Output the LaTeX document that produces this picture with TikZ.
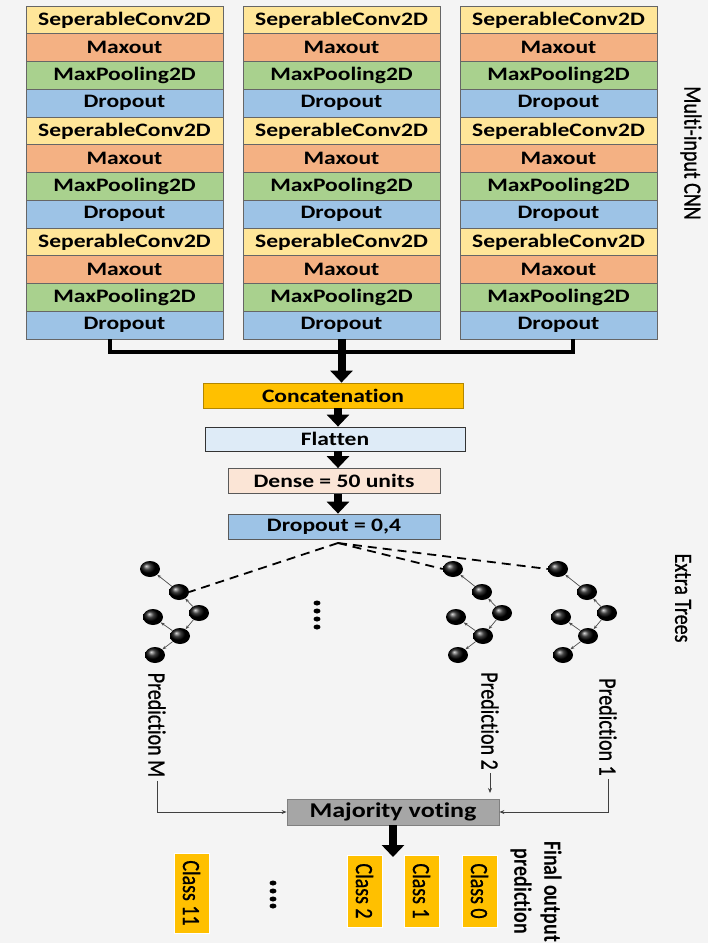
\documentclass[tikz,border=0pt]{standalone}
\usepackage{fontspec}
\usepackage{graphicx}
\setmainfont[Ligatures=NoCommon]{Carlito}
\newfontfamily\boxfont[FakeStretch=1.24, Ligatures=NoCommon]{Carlito}
\newfontfamily\sidefont[FakeBold=0.9, Ligatures=NoCommon]{Carlito}
\usetikzlibrary{arrows.meta,shapes.geometric}

\definecolor{BgGray}{RGB}{244,244,244}
\definecolor{ConvYellow}{RGB}{255,230,153}
\definecolor{MaxoutOrange}{RGB}{244,177,131}
\definecolor{PoolGreen}{RGB}{169,209,142}
\definecolor{DropBlue}{RGB}{157,195,230}
\definecolor{ConcatGold}{RGB}{255,192,0}
\definecolor{FlatBlue}{RGB}{222,235,247}
\definecolor{DensePeach}{RGB}{251,229,214}
\definecolor{VoteGray}{RGB}{166,166,166}

% glyphs a bit taller, for the turned labels
\newcommand{\tall}[1]{\scalebox{1}[1.24]{#1}}

\tikzstyle{layer} = [rectangle, minimum width=197pt, minimum height=27.75pt, inner sep=0pt, draw=black!60, line width=0.8pt, font=\boxfont\bfseries\fontsize{19}{22}\selectfont]
\tikzstyle{block} = [rectangle, minimum height=25pt, inner sep=0pt, draw=black!65, line width=0.8pt, font=\boxfont\bfseries\fontsize{19}{22}\selectfont]
\tikzstyle{ball} = [ellipse, minimum width=20pt, minimum height=16pt, inner sep=0pt, shading=ball, ball color=black]
\tikzstyle{side} = [rotate=-90, font=\sidefont\fontsize{20}{24}\selectfont]
\tikzstyle{classbox} = [rectangle, rotate=-90, minimum width=72pt, minimum height=35pt, inner sep=0pt, fill=ConcatGold, draw=white, font=\sidefont\fontsize{20}{24}\selectfont]
\tikzstyle{fatarrow} = [line width=8pt, -{Triangle[width=22pt,length=12pt]}]
\tikzstyle{bus} = [line width=4pt]
\tikzstyle{treearrow} = [line width=0.7pt, black!70, -{Stealth[length=4pt,width=3pt]}]
\tikzstyle{vote} = [line width=1pt, black!75, -{Stealth[length=5pt,width=4pt]}]

\begin{document}
\begin{tikzpicture}[x=1pt, y=-1pt]

\fill[BgGray] (0,0) rectangle (708,943);
\useasboundingbox (0,0) rectangle (708,943);

% Multi-input CNN
\foreach \c/\x in {1/124.5, 2/341.5, 3/558.5}
  \foreach \b in {0,1,2}
    \foreach \k/\fillc/\txt in {1/ConvYellow/SeperableConv2D, 2/MaxoutOrange/Maxout, 3/PoolGreen/MaxPooling2D, 4/DropBlue/Dropout} {
      \pgfmathsetmacro{\y}{6+27.75*(4*\b+\k-0.5)}
      \node (c\c-\b-\k) [layer, fill=\fillc] at (\x,\y) {\txt};
    }

\node (cnnlabel) [side] at (691,153) {\tall{Multi-input CNN}};

% Dense head
\node (concat) [block, fill=ConcatGold, draw=ConcatGold!70!black, minimum width=260pt] at (333,395.5) {Concatenation};
\node (flatten) [block, fill=FlatBlue, draw=black!80, minimum width=260pt, minimum height=24pt] at (335,439) {Flatten};
\node (dense) [block, fill=DensePeach, minimum width=212pt] at (334,481) {Dense = 50 units};
\node (drop) [block, fill=DropBlue, minimum width=212pt] at (334,526.5) {Dropout = 0,4};

\coordinate (busL) at (110,352);
\coordinate (busR) at (573,352);
\draw[bus] (busL |- c1-2-4.south) -- (busL) -- (busR) -- (busR |- c3-2-4.south);
\draw[fatarrow] (c2-2-4.south) -- (c2-2-4.south |- concat.north);
\draw[fatarrow] (concat.south -| 338,0) -- (flatten.north -| 338,0);
\draw[fatarrow] (flatten.south -| 338,0) -- (dense.north -| 338,0);
\draw[fatarrow] (dense.south -| 338,0) -- (drop.north -| 338,0);

% Extra Trees
\foreach \t/\x in {M/150, 2/453, 1/558} {
  \node (\t-1) [ball] at (\x,569) {};
  \node (\t-2) [ball] at (\x+29,592) {};
  \node (\t-3) [ball] at (\x+49,613) {};
  \node (\t-4) [ball] at (\x+3,617) {};
  \node (\t-5) [ball] at (\x+30,636) {};
  \node (\t-6) [ball] at (\x+5,655) {};
  \draw[treearrow] (\t-2) -- (\t-1);
  \draw[treearrow] (\t-3) -- (\t-2);
  \draw[treearrow] (\t-3) -- (\t-5);
  \draw[treearrow] (\t-5) -- (\t-4);
  \draw[treearrow] (\t-5) -- (\t-6);
}

\coordinate (fork) at (338,543);
\draw[line width=1.8pt, dash pattern=on 9pt off 6pt] (fork) -- (M-2.east);
\draw[line width=1.8pt, dash pattern=on 9pt off 6pt] (fork) -- (2-1.west);
\draw[line width=1.8pt, dash pattern=on 9pt off 6pt] (fork) -- (1-1.west);
\foreach \y in {603,611,619,627}
  \fill (317,\y) ellipse (3.5 and 2.5);

\node (treelabel) [side] at (683,598) {\tall{Extra Trees}};

% Voting
\node (predM) [side] at (157,725) {\tall{Prediction M}};
\node (pred2) [side] at (490,721) {\tall{Prediction 2}};
\node (pred1) [side] at (608,727) {\tall{Prediction 1}};
\node (vote) [block, fill=VoteGray, draw=black!50, minimum width=212pt, minimum height=26pt, font=\boxfont\bfseries\fontsize{21}{24}\selectfont] at (393,812) {Majority voting};

\draw[vote] (predM.east) |- (vote.west);
\draw[vote] (pred1.east) |- (vote.east);
\draw[vote] (pred2.east) -- (pred2.east |- 0,793);

% Output classes
\node (cls11) [classbox, minimum width=80pt] at (191.5,893) {\tall{Class 11}};
\node (cls2) [classbox] at (364.5,891) {\tall{Class 2}};
\node (cls1) [classbox] at (421.5,891) {\tall{Class 1}};
\node (cls0) [classbox] at (479.5,891) {\tall{Class 0}};
\foreach \y in {883,891,899,906}
  \fill (273,\y) ellipse (3.5 and 2.5);
\coordinate (outtip) at (393,857);
\draw[fatarrow] (vote.south) -- (outtip);

\node (final) [side, align=center, font=\bfseries\fontsize{20}{30}\selectfont] at (536,891.5) {\tall{Final output}\\\tall{prediction}};

\end{tikzpicture}
\end{document}
